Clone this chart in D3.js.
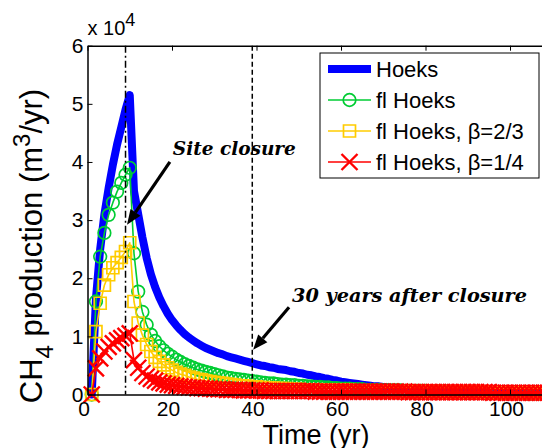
<!DOCTYPE html>
<html>
<head>
<meta charset="utf-8">
<script src="https://cdn.jsdelivr.net/npm/d3@7"></script>
<style>
  body { margin: 0; background: #fff; }
  svg { display: block; font-family: "Liberation Sans", Arial, sans-serif; }
</style>
</head>
<body>
<div id="chart"></div>
<script>
// annual time steps (yr)
const years = d3.range(1, 111);

// CH4 production, in units of 10^4 m3/yr
const hoeks = [
  0, 1.65, 2.50, 3.10, 3.55, 3.95, 4.30, 4.60, 4.90, 5.15,
  3.50, 3.10, 2.70, 2.35, 2.07, 1.85, 1.67, 1.52, 1.39, 1.28,
  1.19, 1.11, 1.04, 0.98, 0.93, 0.88, 0.84, 0.80, 0.77, 0.74,
  0.71, 0.69, 0.66, 0.64, 0.62, 0.60, 0.58, 0.56, 0.54, 0.52,
  0.50, 0.49, 0.47, 0.46, 0.44, 0.43, 0.42, 0.40, 0.39, 0.37,
  0.36, 0.34, 0.33, 0.31, 0.30, 0.28, 0.27, 0.25, 0.24, 0.22,
  0.21, 0.20, 0.19, 0.18, 0.17, 0.16, 0.15, 0.14, 0.14, 0.13,
  0.12, 0.11, 0.11, 0.10, 0.09, 0.09, 0.08, 0.08, 0.07, 0.07,
  0.06, 0.06, 0.06, 0.05, 0.05, 0.05, 0.04, 0.04, 0.04, 0.04,
  0.03, 0.03, 0.03, 0.03, 0.03, 0.03, 0.03, 0.03, 0.03, 0.03,
  0.02, 0.02, 0.02, 0.02, 0.02, 0.02, 0.02, 0.02, 0.02, 0.02
];
const flHoeks = [
  0, 1.60, 2.37, 2.78, 3.09, 3.30, 3.49, 3.64, 3.78, 3.90,
  2.43, 1.77, 1.42, 1.20, 1.03, 0.92, 0.83, 0.76, 0.70, 0.65,
  0.60, 0.56, 0.52, 0.49, 0.46, 0.43, 0.41, 0.39, 0.37, 0.35,
  0.33, 0.31, 0.29, 0.28, 0.27, 0.26, 0.25, 0.24, 0.23, 0.22,
  0.21, 0.20, 0.19, 0.19, 0.18, 0.17, 0.17, 0.16, 0.16, 0.15,
  0.15, 0.14, 0.14, 0.13, 0.13, 0.12, 0.12, 0.11, 0.11, 0.10,
  0.10, 0.10, 0.09, 0.09, 0.09, 0.08, 0.08, 0.08, 0.08, 0.07,
  0.07, 0.07, 0.07, 0.07, 0.06, 0.06, 0.06, 0.06, 0.06, 0.06,
  0.05, 0.05, 0.05, 0.05, 0.05, 0.04, 0.04, 0.04, 0.04, 0.04,
  0.04, 0.04, 0.04, 0.03, 0.03, 0.03, 0.03, 0.03, 0.03, 0.03,
  0.03, 0.03, 0.03, 0.02, 0.02, 0.02, 0.02, 0.02, 0.02, 0.02
];
const flHoeks23 = [
  0, 1.08, 1.57, 1.88, 2.06, 2.18, 2.27, 2.36, 2.46, 2.61,
  1.60, 1.23, 1.02, 0.86, 0.74, 0.64, 0.57, 0.51, 0.46, 0.42,
  0.38, 0.35, 0.33, 0.30, 0.28, 0.26, 0.25, 0.23, 0.22, 0.21,
  0.20, 0.19, 0.18, 0.17, 0.16, 0.15, 0.15, 0.14, 0.13, 0.13,
  0.12, 0.12, 0.11, 0.11, 0.10, 0.10, 0.10, 0.09, 0.09, 0.09,
  0.08, 0.08, 0.08, 0.08, 0.08, 0.07, 0.07, 0.07, 0.07, 0.07,
  0.07, 0.07, 0.06, 0.06, 0.06, 0.06, 0.06, 0.06, 0.06, 0.06,
  0.05, 0.05, 0.05, 0.05, 0.05, 0.05, 0.05, 0.05, 0.05, 0.05,
  0.05, 0.05, 0.05, 0.04, 0.04, 0.04, 0.04, 0.04, 0.04, 0.04,
  0.04, 0.04, 0.04, 0.04, 0.04, 0.03, 0.03, 0.03, 0.03, 0.03,
  0.03, 0.03, 0.03, 0.03, 0.03, 0.03, 0.03, 0.03, 0.03, 0.03
];
const flHoeks14 = [
  0, 0.45, 0.62, 0.74, 0.82, 0.88, 0.93, 0.97, 1.01, 1.05,
  0.59, 0.46, 0.37, 0.31, 0.27, 0.24, 0.21, 0.19, 0.17, 0.16,
  0.15, 0.14, 0.13, 0.12, 0.12, 0.11, 0.11, 0.10, 0.10, 0.09,
  0.09, 0.09, 0.08, 0.08, 0.08, 0.08, 0.07, 0.07, 0.07, 0.07,
  0.07, 0.06, 0.06, 0.06, 0.06, 0.06, 0.06, 0.06, 0.06, 0.06,
  0.06, 0.06, 0.06, 0.05, 0.05, 0.05, 0.05, 0.05, 0.05, 0.05,
  0.05, 0.05, 0.05, 0.05, 0.05, 0.05, 0.05, 0.05, 0.05, 0.05,
  0.05, 0.05, 0.05, 0.05, 0.05, 0.04, 0.04, 0.04, 0.04, 0.04,
  0.04, 0.04, 0.04, 0.04, 0.04, 0.04, 0.04, 0.04, 0.04, 0.04,
  0.04, 0.04, 0.04, 0.04, 0.04, 0.03, 0.03, 0.03, 0.03, 0.03,
  0.03, 0.03, 0.03, 0.03, 0.03, 0.03, 0.03, 0.03, 0.03, 0.03
];

const seriesNames = ["Hoeks", "fl Hoeks", "fl Hoeks, \u03b2=2/3", "fl Hoeks, \u03b2=1/4"];
const closureYear = 9;
const laterYear = 39;   // 30 years after closure
const xTicks = [0, 20, 40, 60, 80, 100, 120];
const yTicks = [0, 1, 2, 3, 4, 5, 6];

const W = 542, H = 448;
const svg = d3.select("#chart").append("svg").attr("width", W).attr("height", H);

// plot box (the right part of the axes is cut off by the picture edge)
const x = d3.scaleLinear().domain([0, 120]).range([87.5, 594.5]);
const y = d3.scaleLinear().domain([0, 6]).range([394.5, 45.7]);

const series = [
  { name: seriesNames[0], values: hoeks, color: "#0000ff", width: 8, marker: null },
  { name: seriesNames[1], values: flHoeks, color: "#00cc33", width: 1.6, marker: "circle" },
  { name: seriesNames[2], values: flHoeks23, color: "#ffcc00", width: 1.6, marker: "square" },
  { name: seriesNames[3], values: flHoeks14, color: "#ff0000", width: 1.6, marker: "cross" }
];

function markerPath(type, cx, cy) {
  const p = d3.path();
  if (type === "square") {
    p.rect(cx - 6, cy - 6, 12, 12);
  } else if (type === "cross") {
    p.moveTo(cx - 8, cy - 8); p.lineTo(cx + 8, cy + 8);
    p.moveTo(cx - 8, cy + 8); p.lineTo(cx + 8, cy - 8);
  }
  return p;
}

function drawMarkers(g, s, pts) {
  if (s.marker === "circle") {
    g.selectAll("circle").data(pts).join("circle")
      .attr("cx", d => d[0]).attr("cy", d => d[1]).attr("r", 6.3)
      .attr("fill", "none").attr("stroke", s.color).attr("stroke-width", 1.7);
  } else {
    g.selectAll("path.m").data(pts).join("path").attr("class", "m")
      .attr("d", d => markerPath(s.marker, d[0], d[1]).toString())
      .attr("fill", "none").attr("stroke", s.color)
      .attr("stroke-width", s.marker === "cross" ? 2.4 : 1.7);
  }
}

const line = d3.line().x(d => x(d.t)).y(d => y(d.v));
const plot = svg.append("g");

series.forEach(s => {
  const data = years.map((t, i) => ({ t: t, v: s.values[i] }));
  const g = plot.append("g");
  g.append("path").datum(data)
    .attr("d", line)
    .attr("fill", "none")
    .attr("stroke", s.color)
    .attr("stroke-width", s.width)
    .attr("stroke-linejoin", "round")
    .attr("stroke-linecap", "round");
  if (s.marker) drawMarkers(g, s, data.map(d => [x(d.t), y(d.v)]));
});

// vertical reference lines
svg.append("line")
  .attr("x1", x(closureYear)).attr("x2", x(closureYear))
  .attr("y1", y(6)).attr("y2", y(0))
  .attr("stroke", "#000").attr("stroke-width", 1.5).attr("stroke-dasharray", "7,3,2,3");
svg.append("line")
  .attr("x1", x(laterYear)).attr("x2", x(laterYear))
  .attr("y1", y(6)).attr("y2", y(0))
  .attr("stroke", "#000").attr("stroke-width", 1.5).attr("stroke-dasharray", "5,3");

// axes (MATLAB style: ticks pointing inwards, box)
const fontTick = 21;
const gx = svg.append("g").attr("transform", `translate(0,${y(0)})`)
  .call(d3.axisBottom(x).tickValues(xTicks).tickSizeInner(-5).tickSizeOuter(0).tickPadding(7));
const gxTop = svg.append("g").attr("transform", `translate(0,${y(6)})`)
  .call(d3.axisTop(x).tickValues(xTicks).tickSizeInner(-5).tickSizeOuter(0).tickFormat(""));
const gy = svg.append("g").attr("transform", `translate(${x(0)},0)`)
  .call(d3.axisLeft(y).tickValues(yTicks).tickFormat(d3.format("d"))
    .tickSizeInner(-5).tickSizeOuter(0).tickPadding(4));

[gx, gxTop, gy].forEach(g => {
  g.select(".domain").attr("stroke", "#000").attr("stroke-width", 1.5);
  g.selectAll(".tick line").attr("stroke", "#000").attr("stroke-width", 1);
  g.selectAll(".tick text").attr("fill", "#000")
    .style("font-family", "'Liberation Sans', Arial, sans-serif")
    .style("font-size", fontTick + "px");
});
gx.selectAll(".tick text").attr("dx", -4);

// exponent above the y axis
const expo = svg.append("text").attr("x", x(0)).attr("y", 35)
  .style("font-size", "20px").attr("fill", "#000");
expo.append("tspan").text("x 10");
expo.append("tspan").attr("dy", -9).style("font-size", "18px").text("4");

// axis titles
svg.append("text")
  .attr("x", 316).attr("y", 444)
  .attr("text-anchor", "middle")
  .style("font-size", "27px")
  .text("Time (yr)");

const yt = svg.append("text")
  .attr("transform", "translate(42,246) rotate(-90)")
  .attr("text-anchor", "middle")
  .style("font-size", "31px");
yt.append("tspan").text("CH");
yt.append("tspan").attr("dy", 11).style("font-size", "24px").text("4");
yt.append("tspan").attr("dy", -11).text(" production (m");
yt.append("tspan").attr("dy", -12).style("font-size", "24px").text("3");
yt.append("tspan").attr("dy", 12).text("/yr)");

// annotations
function arrow(t0, v0, t1, v1) {
  const x0 = x(t0), y0 = y(v0), x1 = x(t1), y1 = y(v1);
  const a = Math.atan2(y1 - y0, x1 - x0);
  const L = 15, Wd = 6;
  const bx = x1 - L * Math.cos(a), by = y1 - L * Math.sin(a);
  svg.append("line").attr("x1", x0).attr("y1", y0).attr("x2", bx).attr("y2", by)
    .attr("stroke", "#000").attr("stroke-width", 3.2);
  svg.append("path")
    .attr("d", `M${x1},${y1}L${bx + Wd * Math.sin(a)},${by - Wd * Math.cos(a)}L${bx - Wd * Math.sin(a)},${by + Wd * Math.cos(a)}Z`)
    .attr("fill", "#000");
}
const annoFont = "'DejaVu Serif', 'Liberation Serif', serif";
function note(t, v, txt, len) {
  svg.append("text").attr("x", x(t)).attr("y", y(v))
    .attr("textLength", len).attr("lengthAdjust", "spacingAndGlyphs")
    .style("font-family", annoFont).style("font-size", "19px")
    .style("font-weight", "bold").style("font-style", "italic")
    .text(txt);
}
arrow(19.5, 4.0, 9.35, 2.92);
note(20.2, 4.12, "Site closure", 123);
arrow(47.7, 1.5, 39.2, 0.77);
note(48.4, 1.59, "30 years after closure", 235);

// legend
const lg = svg.append("g").attr("transform", "translate(320,53)");
lg.append("rect").attr("width", 219).attr("height", 125)
  .attr("fill", "#fff").attr("stroke", "#000").attr("stroke-width", 1);
series.forEach((s, i) => {
  const cy = 16 + i * 31;
  const row = lg.append("g");
  row.append("line").attr("x1", 8).attr("x2", 51).attr("y1", cy).attr("y2", cy)
    .attr("stroke", s.color).attr("stroke-width", s.width);
  if (s.marker) drawMarkers(row, s, [[29.5, cy]]);
  row.append("text").attr("x", 56).attr("y", cy + 8)
    .style("font-size", "22px").attr("fill", "#000").text(s.name);
});
</script>
</body>
</html>
